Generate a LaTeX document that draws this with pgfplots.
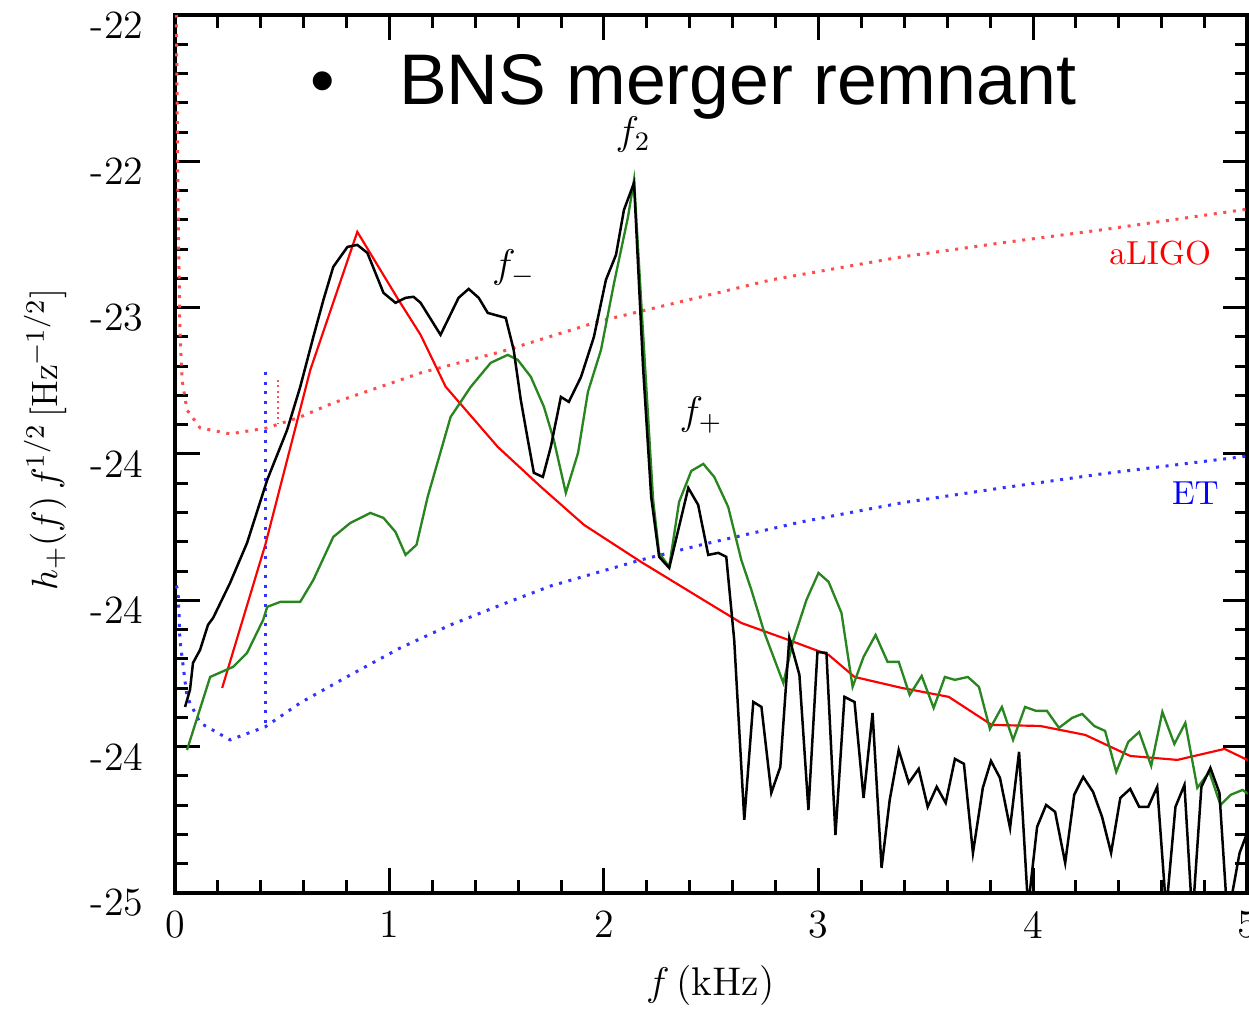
\documentclass[border=0pt]{standalone}
\usepackage{pgfplots}
\pgfplotsset{compat=1.18}
\usepackage{fontspec}
\newfontfamily\sansbns{Liberation Sans}
\definecolor{grn}{rgb}{0.16,0.52,0.12}
\definecolor{ligored}{rgb}{1,0.3,0.3}
\definecolor{etblue}{rgb}{0.2,0.2,1}
\begin{document}
\begin{tikzpicture}
\begin{axis}[
  scale only axis, width=321.8pt, height=263.4pt,
  xmin=0, xmax=5, ymin=0, ymax=6,
  xtick={0,1,2,3,4,5}, xticklabels={0,1,2,3,4,5},
  ytick={0,1,2,3,4,5,6}, yticklabels={-25,-24,-24,-24,-23,-22,-22},
  minor x tick num=4, minor y tick num=4,
  tick align=inside, major tick length=7.5pt, minor tick length=3.9pt,
  tick style={black, line width=0.9pt},
  axis line style={line width=1.3pt},
  ticklabel style={font=\fontsize{12}{14}\selectfont},
  yticklabel style={xshift=-6pt, yshift=-3pt},
  xticklabel style={yshift=-2pt},
  xlabel={$f$\,(kHz)},
  ylabel={$h_{+}(f)\,f^{1/2}$\,[Hz$^{-1/2}$]},
  xlabel style={at={(axis description cs:0.499,-0.105)}, anchor=center, font=\fontsize{12}{14}\selectfont},
  ylabel style={at={(axis description cs:-0.121,0.516)}, anchor=center, font=\fontsize{11}{13}\selectfont},
  clip=true,
]
\coordinate (SW) at (rel axis cs:0,0);
\coordinate (NE) at (rel axis cs:1,1);

% aLIGO (red dotted)
\addplot[ligored, line width=0.9pt, dotted] coordinates {
(0.005,6.2) (0.014,4.737) (0.023,3.848) (0.033,3.506) (0.056,3.301) (0.117,3.178)
(0.257,3.137) (0.430,3.178) (0.584,3.253) (0.738,3.349) (1.051,3.506) (1.145,3.554)
(1.519,3.698) (1.986,3.910) (2.453,4.074) (2.780,4.190) (3.388,4.347) (3.855,4.443)
(4.322,4.532) (5.009,4.675)};
\addplot[ligored, line width=0.6pt, densely dotted] coordinates {(0.481,3.506) (0.481,3.212)};

% ET (blue dotted)
\addplot[etblue, line width=0.9pt, dotted] coordinates {
(0.005,2.1) (0.014,2.071) (0.019,1.900) (0.023,1.729) (0.056,1.340) (0.117,1.162)
(0.257,1.046) (0.421,1.135) (0.584,1.299) (0.818,1.490) (1.051,1.675) (1.285,1.832)
(1.519,1.968) (1.752,2.098) (2.173,2.276) (2.453,2.379) (2.921,2.536) (3.388,2.666)
(3.855,2.768) (4.322,2.864) (5.009,2.987)};
\addplot[etblue, line width=0.9pt, dotted] coordinates {(0.421,3.561) (0.421,1.135)};

% model (red solid)
\addplot[red, line width=0.65pt] coordinates {
(0.220,1.401) (0.421,2.379) (0.631,3.575) (0.850,4.518) (1.042,4.053) (1.145,3.814)
(1.262,3.459) (1.505,3.048) (1.706,2.775) (1.907,2.515) (2.173,2.262) (2.486,1.982)
(2.640,1.845) (2.860,1.729) (3.047,1.627) (3.168,1.476) (3.388,1.401) (3.607,1.340)
(3.808,1.148) (4.033,1.141) (4.243,1.080) (4.453,0.936) (4.673,0.909) (4.893,0.984)
(5.009,0.902)};

% green
\addplot[grn, line width=0.7pt] coordinates {
(0.056,0.977) (0.164,1.476) (0.271,1.545) (0.336,1.640) (0.411,1.866) (0.430,1.955)
(0.491,1.989) (0.584,1.989) (0.645,2.139) (0.738,2.433) (0.818,2.529) (0.911,2.597)
(0.972,2.563) (1.028,2.467) (1.075,2.310) (1.126,2.379) (1.178,2.707) (1.285,3.253)
(1.379,3.459) (1.472,3.623) (1.551,3.677) (1.598,3.643) (1.659,3.527) (1.720,3.322)
(1.766,3.096) (1.822,2.734) (1.879,3.007) (1.925,3.424) (1.986,3.711) (2.047,4.169)
(2.112,4.620) (2.140,4.873) (2.182,3.828) (2.229,2.686) (2.257,2.324) (2.304,2.228)
(2.350,2.672) (2.407,2.884) (2.463,2.932) (2.514,2.843) (2.579,2.638) (2.640,2.276)
(2.687,2.071) (2.748,1.777) (2.836,1.435) (2.883,1.729) (2.944,2.003) (3.000,2.187)
(3.047,2.126) (3.107,1.914) (3.159,1.408) (3.210,1.613) (3.266,1.763) (3.322,1.579)
(3.374,1.579) (3.425,1.353) (3.481,1.483) (3.537,1.264) (3.589,1.476) (3.636,1.456)
(3.696,1.476) (3.748,1.408) (3.799,1.121) (3.855,1.271) (3.907,1.046) (3.963,1.271)
(4.014,1.244) (4.065,1.244) (4.121,1.128) (4.182,1.196) (4.229,1.223) (4.285,1.141)
(4.336,1.107) (4.388,0.827) (4.444,1.032) (4.495,1.100) (4.551,0.868) (4.603,1.237)
(4.659,1.018) (4.710,1.162) (4.766,0.718) (4.822,0.827) (4.874,0.601) (4.921,0.670)
(4.977,0.704) (5.009,0.670)};

% black
\addplot[black, line width=0.75pt] coordinates {
(0.047,1.271) (0.070,1.388) (0.084,1.572) (0.117,1.661) (0.154,1.832) (0.178,1.880)
(0.257,2.119) (0.336,2.392) (0.430,2.823) (0.523,3.165) (0.584,3.459) (0.645,3.800)
(0.692,4.053) (0.738,4.279) (0.804,4.415) (0.850,4.429) (0.897,4.374) (0.972,4.101)
(1.028,4.033) (1.075,4.067) (1.112,4.074) (1.145,4.033) (1.238,3.814) (1.322,4.067)
(1.369,4.128) (1.416,4.067) (1.458,3.964) (1.542,3.930) (1.579,3.711) (1.612,3.370)
(1.645,3.096) (1.673,2.871) (1.715,2.843) (1.752,3.048) (1.799,3.390) (1.836,3.356)
(1.893,3.527) (1.953,3.800) (2.009,4.190) (2.056,4.361) (2.093,4.668) (2.140,4.853)
(2.182,3.595) (2.220,2.707) (2.257,2.297) (2.304,2.221) (2.393,2.768) (2.439,2.652)
(2.486,2.310) (2.533,2.324) (2.570,2.297) (2.607,1.729) (2.654,0.499) (2.696,1.305)
(2.734,1.271) (2.780,0.684) (2.822,0.861) (2.864,1.743) (2.911,1.490) (2.953,0.567)
(2.995,1.647) (3.037,1.640) (3.079,0.396) (3.121,1.340) (3.168,1.305) (3.210,0.649)
(3.252,1.230) (3.294,0.171) (3.332,0.636) (3.374,0.977) (3.421,0.752) (3.467,0.848)
(3.509,0.588) (3.551,0.725) (3.593,0.615) (3.636,0.916) (3.678,0.882) (3.720,0.273)
(3.766,0.718) (3.804,0.902) (3.846,0.786) (3.893,0.444) (3.935,0.964) (3.977,-0.10)
(4.019,0.451) (4.061,0.601) (4.103,0.554) (4.150,0.205) (4.192,0.670) (4.234,0.793)
(4.280,0.690) (4.322,0.519) (4.364,0.273) (4.407,0.649) (4.453,0.711) (4.495,0.588)
(4.537,0.588) (4.579,0.725) (4.621,-0.12) (4.664,0.588) (4.706,0.738) (4.743,-0.18)
(4.785,0.725) (4.827,0.854) (4.869,0.684) (4.907,-0.18) (4.963,0.273) (5.009,0.451)};

% annotations
\node[font=\fontsize{12}{14}\selectfont] at (axis cs:2.136,5.18) {$f_{2}$};
\node[font=\fontsize{12}{14}\selectfont] at (axis cs:1.579,4.272) {$f_{-}$};
\node[font=\fontsize{12}{14}\selectfont] at (axis cs:2.453,3.267) {$f_{+}$};
\node[red, font=\fontsize{10}{12}\selectfont] at (axis cs:4.593,4.375) {aLIGO};
\node[blue, font=\fontsize{10}{12}\selectfont] at (axis cs:4.757,2.734) {ET};
\node[anchor=base west, inner sep=0pt, font=\sansbns\fontsize{21.5}{24}\selectfont] at (axis cs:1.042,5.386) {BNS merger remnant};
\node[anchor=base, inner sep=0pt, font=\sansbns\fontsize{21}{24}\selectfont] at (axis cs:0.687,5.386) {•};
\end{axis}
\pgfresetboundingbox
\path[use as bounding box] ([xshift=-52.5pt,yshift=-34.8pt]SW) rectangle ([xshift=0.45pt,yshift=4.5pt]NE);
\end{tikzpicture}
\end{document}
